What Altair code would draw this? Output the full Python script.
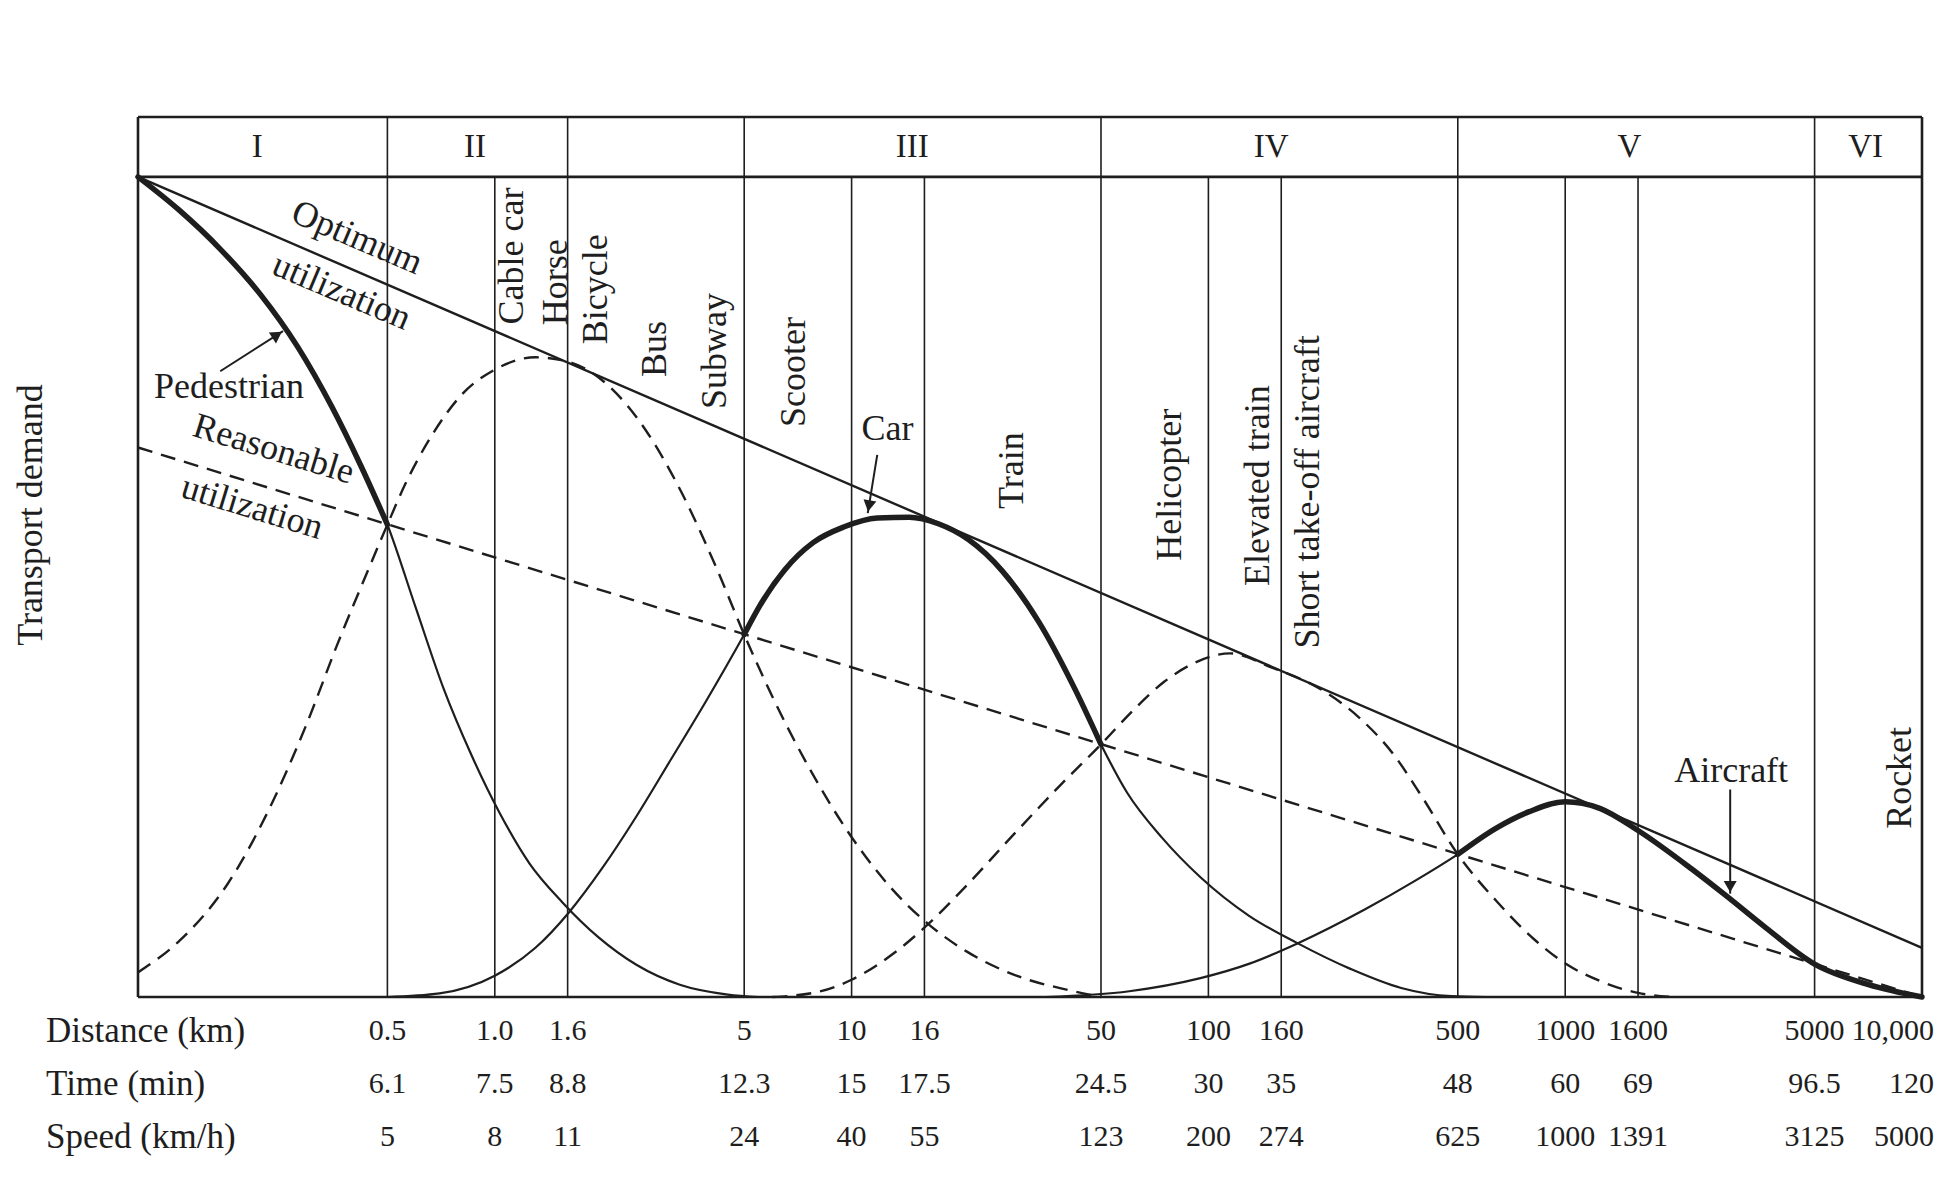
import altair as alt
import pandas as pd

# ---------------- data ----------------
# bottom table
dist_km = [0.5, 1.0, 1.6, 5, 10, 16, 50, 100, 160, 500, 1000, 1600, 5000, 10000]
dist_labels = ["0.5", "1.0", "1.6", "5", "10", "16", "50", "100", "160", "500",
               "1000", "1600", "5000", "10,000"]
time_min = ["6.1", "7.5", "8.8", "12.3", "15", "17.5", "24.5", "30", "35", "48",
            "60", "69", "96.5", "120"]
speed_kmh = ["5", "8", "11", "24", "40", "55", "123", "200", "274", "625",
             "1000", "1391", "3125", "5000"]

# zones and grid lines (distance, km)
zone_bounds = [0.5, 1.6, 5, 50, 500, 5000]
inner_lines = [1.0, 10, 16, 100, 160, 1000, 1600]
zone_names = ["I", "II", "III", "IV", "V", "VI"]
zone_label_d = [0.216, 0.88, 14.8, 150, 1514, 6950]

# utilization lines
optimum_d = [0.1, 10000]
optimum_y = [100, 6]
reasonable_d = [0.1, 10000]
reasonable_y = [67, 0]

# pedestrian curve (thick up to 0.5 km)
ped_d = [0.1, 0.13, 0.17, 0.22, 0.28, 0.35, 0.42, 0.5, 0.6, 0.72, 0.86, 1.03, 1.25,
         1.55, 1.95, 2.5, 3.3, 4.5, 5.5]
ped_y = [100, 96.0, 91.2, 85.7, 79.3, 71.9, 64.9, 57.6, 47.5, 37.5, 29.5, 22.5, 16.3,
         11.5, 7.3, 3.9, 1.5, 0.3, 0]
ped_thick_to = 0.5

# cable car / horse / bicycle / bus (dashed)
b_d = [0.1, 0.131, 0.179, 0.233, 0.297, 0.362, 0.441, 0.5, 0.562, 0.66, 0.81, 1.0,
       1.3, 1.65, 2.1, 2.64, 3.33, 4.21, 5, 6, 7.59, 9.82, 12.9, 16.5, 21.1, 29.4, 41, 50]
b_y = [3, 6.9, 13.9, 22.9, 33.3, 43, 52, 57.6, 62.6, 68.2, 73.5, 76.5,
       78.0, 77.3, 74.4, 69.2, 61.6, 52.0, 44.2, 36.6, 28.0, 20.0, 13.3, 8.8, 5.5, 2.5, 0.8, 0]

# subway / scooter / car / train (solid, thick 5-50 km)
car_d = [0.5, 0.7, 1.0, 1.3, 1.62, 2.0, 2.5, 3.1, 3.9, 5, 5.6, 6.5, 7.8, 9.5, 11.8,
         14.5, 17.5, 21.2, 26.5, 33.4, 42.2, 50, 59.2, 74.2, 95, 130, 177, 251, 347,
         480, 600]
car_y = [0, 0.44, 2.6, 6.0, 10.4, 15.7, 22.1, 28.8, 36.0, 44.2, 48.1, 52.1, 55.4, 57.3,
         58.4, 58.5, 57.7, 55.8, 51.9, 45.8, 37.6, 30.8, 24.9, 19.4, 14.6, 9.9, 6.6, 3.4,
         1.1, 0.1, 0]
car_thick_from, car_thick_to = 5, 50

# helicopter / elevated train / short take-off aircraft (dashed)
d_d = [6, 8, 10, 13.1, 16.5, 20.7, 28.3, 38.6, 50, 62, 75, 90, 115, 150, 207, 264,
       330, 397, 500, 651, 815, 1017, 1260, 1600, 2000]
d_y = [0, 0.6, 2.1, 5.3, 9.0, 13.3, 19.7, 25.9, 30.8, 35.1, 38.4, 40.6, 41.9, 40.2,
       37.5, 34.1, 29.6, 24.4, 17.4, 11.4, 7.1, 3.9, 1.9, 0.5, 0]

# aircraft (solid, thick beyond 500 km)
air_d = [35, 60, 95, 131, 177, 275, 377, 500, 641, 793, 1000, 1250, 1600, 2263, 2852,
         3588, 5000, 7080, 10000]
air_y = [0, 0.7, 2.3, 4.1, 6.5, 10.7, 14.1, 17.4, 20.6, 22.6, 23.8, 23.0, 20.3, 15.6,
         12.2, 8.7, 4.0, 1.5, 0]
air_thick_from = 500

# mode labels (vertical text): distance of centre, demand at text start
mode_names = ["Cable car", "Horse", "Bicycle", "Bus", "Subway", "Scooter", "Train",
              "Helicopter", "Elevated train", "Short take-off aircraft", "Rocket"]
mode_d = [1.12, 1.48, 1.92, 2.81, 4.13, 6.9, 28.1, 78, 138, 190, 8700]
mode_y = [82.0, 81.9, 79.6, 75.6, 71.7, 69.5, 59.5, 53.2, 50.1, 42.5, 20.5]

# horizontal labels
flat_names = ["Pedestrian", "Car", "Aircraft"]
flat_d = [0.18, 12.6, 2918]
flat_y = [74.4, 69.2, 27.6]

# arrows (tail -> tip) and their heads
arrow_d0 = [0.17, 11.8, 2900]
arrow_y0 = [76.3, 66.1, 25.3]
arrow_d1 = [0.255, 11.1, 2900]
arrow_y1 = [81.2, 59.0, 12.6]
head_d = [0.243, 11.21, 2900]
head_y = [80.6, 60.1, 13.7]
head_angle = [57, 190, 180]

# ---------------- layout / style ----------------
D_MIN, D_MAX = 0.1, 10000
Y_PLOT_TOP, Y_BAND_TOP = 100, 107.3
W, H = 1784, 880
INK = "#1e1e1e"
SERIF = "Liberation Serif"

xs = alt.Scale(type="log", domain=[D_MIN, D_MAX])
ys = alt.Scale(domain=[0, Y_BAND_TOP])


def X(f):
    return alt.X(f, type="quantitative", scale=xs, axis=None)


def Y(f):
    return alt.Y(f, type="quantitative", scale=ys, axis=None)


def seg(name, ds, yv, lo=None, hi=None):
    rows = [(d, v) for d, v in zip(ds, yv)
            if (lo is None or d >= lo) and (hi is None or d <= hi)]
    return pd.DataFrame({"seg": name, "i": list(range(len(rows))),
                         "d": [r[0] for r in rows], "y": [r[1] for r in rows]})


layers = []

# frame
frame_v = pd.DataFrame({"d": [D_MIN, D_MAX], "y0": [0, 0], "y1": [Y_BAND_TOP, Y_BAND_TOP]})
frame_h = pd.DataFrame({"y": [0, Y_PLOT_TOP, Y_BAND_TOP], "d0": [D_MIN] * 3, "d1": [D_MAX] * 3})
layers.append(alt.Chart(frame_v).mark_rule(color=INK, strokeWidth=2.6).encode(
    x=X("d"), y=Y("y0"), y2="y1"))
layers.append(alt.Chart(frame_h).mark_rule(color=INK, strokeWidth=2.6).encode(
    x=X("d0"), x2="d1", y=Y("y")))

# grid lines
zb = pd.DataFrame({"d": zone_bounds, "y0": 0, "y1": Y_BAND_TOP})
il = pd.DataFrame({"d": inner_lines, "y0": 0, "y1": Y_PLOT_TOP})
layers.append(alt.Chart(zb).mark_rule(color=INK, strokeWidth=1.6).encode(
    x=X("d"), y=Y("y0"), y2="y1"))
layers.append(alt.Chart(il).mark_rule(color=INK, strokeWidth=1.6).encode(
    x=X("d"), y=Y("y0"), y2="y1"))

# utilization lines
layers.append(alt.Chart(seg("opt", optimum_d, optimum_y)).mark_line(
    color=INK, strokeWidth=2.4).encode(x=X("d"), y=Y("y"), order="i:Q"))
layers.append(alt.Chart(seg("reas", reasonable_d, reasonable_y)).mark_line(
    color=INK, strokeWidth=2.4, strokeDash=[15, 9]).encode(x=X("d"), y=Y("y"), order="i:Q"))

# curves: full thin curves, thick overlays, dashed curves
thin = pd.concat([seg("ped", ped_d, ped_y), seg("car", car_d, car_y),
                  seg("air", air_d, air_y)])
thick = pd.concat([seg("pt", ped_d, ped_y, hi=ped_thick_to),
                   seg("ct", car_d, car_y, lo=car_thick_from, hi=car_thick_to),
                   seg("at", air_d, air_y, lo=air_thick_from)])
dashed = pd.concat([seg("b", b_d, b_y), seg("dd", d_d, d_y)])

layers.append(alt.Chart(thin).mark_line(color=INK, strokeWidth=2.2, interpolate="monotone").encode(
    x=X("d"), y=Y("y"), detail="seg:N", order="i:Q"))
layers.append(alt.Chart(thick).mark_line(color=INK, strokeWidth=5.5, interpolate="monotone",
                                         strokeCap="round").encode(
    x=X("d"), y=Y("y"), detail="seg:N", order="i:Q"))
layers.append(alt.Chart(dashed).mark_line(color=INK, strokeWidth=2.4, interpolate="monotone",
                                          strokeDash=[15, 9]).encode(
    x=X("d"), y=Y("y"), detail="seg:N", order="i:Q"))

# arrows
arr = pd.DataFrame({"d0": arrow_d0, "y0": arrow_y0, "d1": arrow_d1, "y1": arrow_y1})
layers.append(alt.Chart(arr).mark_rule(color=INK, strokeWidth=2).encode(
    x=X("d0"), x2="d1", y=Y("y0"), y2="y1"))
heads = pd.DataFrame({"d": head_d, "y": head_y, "a": head_angle})
layers.append(alt.Chart(heads).mark_point(shape="triangle", filled=True, color=INK,
                                          opacity=1, size=170).encode(
    x=X("d"), y=Y("y"), angle=alt.Angle("a:Q", scale=None)))

# zone numerals
zl = pd.DataFrame({"d": zone_label_d, "t": zone_names, "y": (Y_PLOT_TOP + Y_BAND_TOP) / 2})
layers.append(alt.Chart(zl).mark_text(font=SERIF, fontSize=33, color=INK,
                                      baseline="middle", align="center").encode(
    x=X("d"), y=Y("y"), text="t:N"))

# vertical mode labels
ml = pd.DataFrame({"d": mode_d, "y": mode_y, "t": mode_names})
layers.append(alt.Chart(ml).mark_text(font=SERIF, fontSize=36, color=INK, angle=270,
                                      align="left", baseline="middle").encode(
    x=X("d"), y=Y("y"), text="t:N"))

# horizontal labels
fl = pd.DataFrame({"d": flat_d, "y": flat_y, "t": flat_names})
layers.append(alt.Chart(fl).mark_text(font=SERIF, fontSize=36, color=INK,
                                      align="center", baseline="middle").encode(
    x=X("d"), y=Y("y"), text="t:N"))

# line labels (rotated along the lines)
opt_lab = pd.DataFrame({"d": [0.411, 0.372], "y": [92.6, 86.0], "t": ["Optimum", "utilization"]})
rea_lab = pd.DataFrame({"d": [0.24, 0.209], "y": [66.8, 59.7], "t": ["Reasonable", "utilization"]})
layers.append(alt.Chart(opt_lab).mark_text(font=SERIF, fontSize=36, color=INK, angle=23,
                                           align="center", baseline="middle").encode(
    x=X("d"), y=Y("y"), text="t:N"))
layers.append(alt.Chart(rea_lab).mark_text(font=SERIF, fontSize=36, color=INK, angle=17,
                                           align="center", baseline="middle").encode(
    x=X("d"), y=Y("y"), text="t:N"))

# bottom table
tab = pd.DataFrame({"d": dist_km, "dist": dist_labels, "time": time_min, "speed": speed_kmh})
tab_main, tab_last = tab.iloc[:-1], tab.iloc[-1:]
for field, ypix in [("dist", 914), ("time", 967), ("speed", 1020)]:
    layers.append(alt.Chart(tab_main).mark_text(font=SERIF, fontSize=30, color=INK,
                                                align="center", baseline="middle").encode(
        x=X("d"), y=alt.value(ypix), text=f"{field}:N"))
    layers.append(alt.Chart(tab_last).mark_text(font=SERIF, fontSize=30, color=INK,
                                                align="right", baseline="middle", dx=12).encode(
        x=X("d"), y=alt.value(ypix), text=f"{field}:N"))

row_names = pd.DataFrame({"t": ["Distance (km)", "Time (min)", "Speed (km/h)"],
                          "yp": [914, 967, 1020]})
layers.append(alt.Chart(row_names).mark_text(font=SERIF, fontSize=35, color=INK,
                                             align="left", baseline="middle").encode(
    x=alt.value(-92), y=alt.Y("yp:Q", scale=None, axis=None), text="t:N"))

# y title
ytitle = pd.DataFrame({"t": ["Transport demand"]})
layers.append(alt.Chart(ytitle).mark_text(font=SERIF, fontSize=36, color=INK, angle=270,
                                          align="center", baseline="middle").encode(
    x=alt.value(-107), y=alt.value(398), text="t:N"))

chart = alt.layer(*layers).properties(
    width=W, height=H,
    padding={"left": 130, "top": 109, "right": 14, "bottom": 180},
    autosize=alt.AutoSizeParams(type="none"),
    background="white",
).configure_view(stroke=None)

chart.save("out.html", embed_options={"renderer": "svg", "actions": False})
